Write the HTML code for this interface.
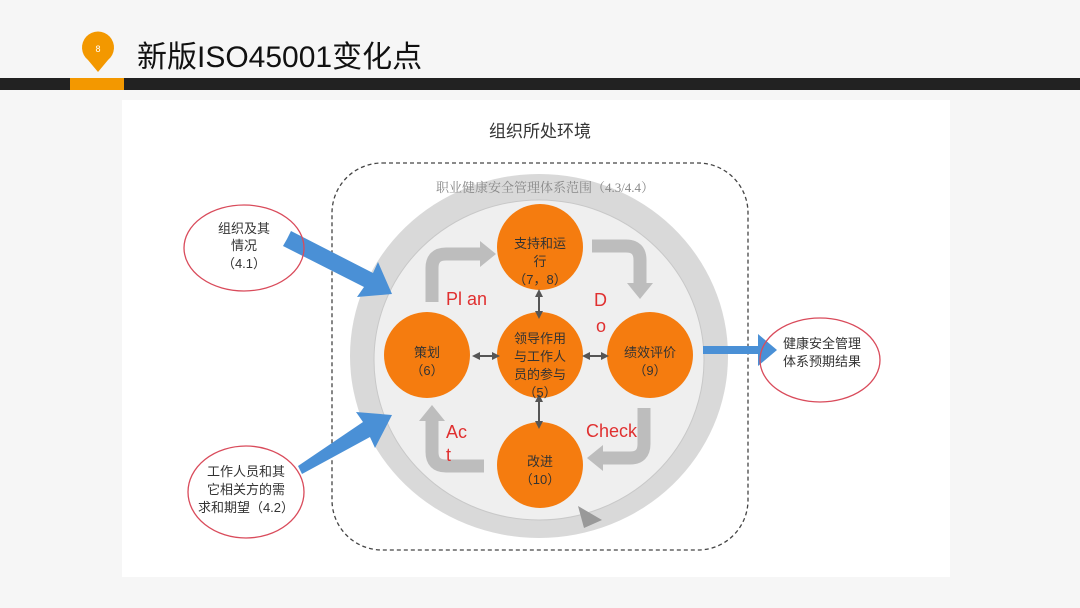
<!DOCTYPE html>
<html><head><meta charset="utf-8"><style>
html,body{margin:0;padding:0;width:1080px;height:608px;overflow:hidden;background:#f6f6f6;font-family:"Liberation Sans","Noto Sans CJK SC",sans-serif;}
</style></head><body>
<svg width="1080" height="608" viewBox="0 0 1080 608" xmlns="http://www.w3.org/2000/svg" style="position:absolute;left:0;top:0">
<defs>
<marker id="dh" markerWidth="8" markerHeight="8" refX="4" refY="4" orient="auto-start-reverse" markerUnits="userSpaceOnUse"><path d="M0,0 L8,4 L0,8 z" fill="#555"/></marker>
</defs>
<rect width="1080" height="608" fill="#f6f6f6"/>
<rect x="0" y="78" width="1080" height="12" fill="#222"/>
<rect x="70" y="78" width="54" height="12" fill="#f39800"/>
<path d="M98,72 L88,60 A16,16 0 1 1 108,60 Z" fill="#f39800"/>
<text x="98" y="52" font-size="9" fill="#fff" text-anchor="middle">8</text>
<text x="137" y="67" font-size="30" fill="#111">新版ISO45001变化点</text>
<rect x="122" y="100" width="828" height="477" fill="#fff"/>
<text x="540" y="137" font-size="17" fill="#333" text-anchor="middle">组织所处环境</text>
<rect x="332" y="163" width="416" height="387" rx="50" fill="none" stroke="#444" stroke-width="1.3" stroke-dasharray="4,3"/>
<ellipse cx="539" cy="356" rx="189" ry="182" fill="#d9d9d9"/>
<ellipse cx="539" cy="360" rx="165" ry="160" fill="#efefef" stroke="#c8c8c8" stroke-width="1"/>
<text x="545" y="192" font-size="13" fill="#888" text-anchor="middle" font-family="Liberation Serif,Noto Serif CJK SC,serif">职业健康安全管理体系范围（4.3/4.4）</text>
<path d="M578,506 L602,520 L584,528 Z" fill="#999"/>
<g fill="none" stroke="#bdbdbd" stroke-width="13">
<path d="M432,302 L432,268 Q432,254 446,254 L482,254"/>
<path d="M592,246 L626,246 Q640,246 640,260 L640,284"/>
<path d="M644,408 L644,444 Q644,458 630,458 L602,458"/>
<path d="M484,466 L446,466 Q432,466 432,452 L432,420"/>
</g>
<g fill="#bdbdbd">
<path d="M480,241 L496,254 L480,267 Z"/>
<path d="M627,283 L640,299 L653,283 Z"/>
<path d="M603,445 L587,458 L603,471 Z"/>
<path d="M419,421 L432,405 L445,421 Z"/>
</g>
<g fill="#e03030" font-size="18">
<text x="446" y="305">Pl an</text>
<text x="594" y="306">D</text>
<text x="596" y="332">o</text>
<text x="586" y="437">Check</text>
<text x="446" y="438">Ac</text>
<text x="446" y="461">t</text>
</g>
<g fill="#f57c0f">
<circle cx="540" cy="247" r="43"/>
<circle cx="427" cy="355" r="43"/>
<circle cx="540" cy="355" r="43"/>
<circle cx="650" cy="355" r="43"/>
<circle cx="540" cy="465" r="43"/>
</g>
<g stroke="#555" stroke-width="2" marker-start="url(#dh)" marker-end="url(#dh)">
<line x1="539" y1="293" x2="539" y2="315"/>
<line x1="539" y1="398" x2="539" y2="425"/>
<line x1="476" y1="356" x2="496" y2="356"/>
<line x1="586" y1="356" x2="605" y2="356"/>
</g>
<g font-size="13" fill="#333" text-anchor="middle">
<text x="540" y="248">支持和运</text><text x="540" y="266">行</text><text x="540" y="284">（7，8）</text>
<text x="427" y="357">策划</text><text x="427" y="375">（6）</text>
<text x="540" y="343">领导作用</text><text x="540" y="361">与工作人</text><text x="540" y="379">员的参与</text><text x="540" y="397">（5）</text>
<text x="650" y="357">绩效评价</text><text x="650" y="375">（9）</text>
<text x="540" y="466">改进</text><text x="540" y="484">（10）</text>
</g>
<g fill="#4a90d6">
<path d="M287,239 L291,231 L373,273 L378,262 L392,294 L357,297 L364,287 L283,246 Z"/>
<path d="M298,466 L302,474 L370,437 L375,448 L392,415 L356,412 L363,422 Z"/>
<path d="M703,346 L758,346 L758,334 L777,350 L758,366 L758,354 L703,354 Z"/>
</g>
<g fill="none" stroke="#d94b5b" stroke-width="1.3">
<ellipse cx="244" cy="248" rx="60" ry="43"/>
<ellipse cx="246" cy="492" rx="58" ry="46"/>
<ellipse cx="820" cy="360" rx="60" ry="42"/>
</g>
<g font-size="13" fill="#333" text-anchor="middle">
<text x="244" y="233">组织及其</text><text x="244" y="250">情况</text><text x="244" y="268">（4.1）</text>
<text x="246" y="476">工作人员和其</text><text x="246" y="494">它相关方的需</text><text x="246" y="512">求和期望（4.2）</text>
<text x="822" y="348">健康安全管理</text><text x="822" y="366">体系预期结果</text>
</g>
</svg>
</body></html>
